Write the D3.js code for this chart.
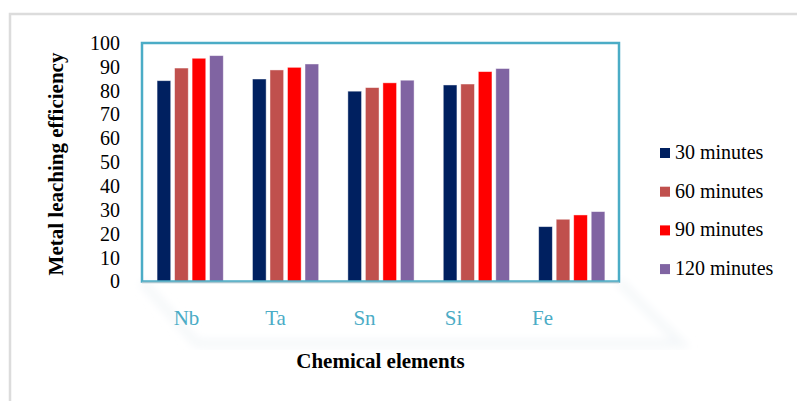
<!DOCTYPE html>
<html lang="en">
<head>
<meta charset="UTF-8">
<title>Metal leaching efficiency</title>
<script src="https://d3js.org/d3.v7.min.js"></script>
<style>
  body { margin: 0; background: #fff; }
  text { font-family: "Liberation Serif", "Times New Roman", serif; }
</style>
</head>
<body>
<script>
// data
const elements = ["Nb", "Ta", "Sn", "Si", "Fe"];
const series = ["30 minutes", "60 minutes", "90 minutes", "120 minutes"];
const min30  = [84.2, 84.9, 79.8, 82.4, 23.0];
const min60  = [89.5, 88.7, 81.3, 82.8, 26.1];
const min90  = [93.6, 89.8, 83.3, 88.0, 27.9];
const min120 = [94.7, 91.2, 84.4, 89.3, 29.3];
const yTicks = [0, 10, 20, 30, 40, 50, 60, 70, 80, 90, 100];
const colors = ["#002060", "#C0504D", "#FF0000", "#8064A2"];

const values = [min30, min60, min90, min120];

const width = 797, height = 401;
const plot = { left: 142, right: 619, top: 43, bottom: 281.5 };

const svg = d3.select("body").append("svg")
  .attr("width", width)
  .attr("height", height);

// outer frame
svg.append("rect")
  .attr("x", 10).attr("y", 14)
  .attr("width", 820).attr("height", 420)
  .attr("fill", "none")
  .attr("stroke", "#dcdcdc")
  .attr("stroke-width", 2.5);

// faint floor under the plot
const defs = svg.append("defs");
defs.append("filter").attr("id", "soft")
  .append("feGaussianBlur").attr("stdDeviation", 4);
svg.append("path")
  .attr("d", `M${plot.left},${plot.bottom} L${plot.left + 55},${plot.bottom + 62} L${plot.right + 62},${plot.bottom + 62} L${plot.right},${plot.bottom}`)
  .attr("fill", "none")
  .attr("stroke", "#f4f7f9")
  .attr("stroke-width", 8)
  .attr("filter", "url(#soft)");

const x0 = d3.scaleBand()
  .domain(elements)
  .range([plot.left, plot.right]);

const x1 = d3.scaleBand()
  .domain(series)
  .range([x0.bandwidth() * 0.158, x0.bandwidth() * 0.852])
  .paddingInner(0.22);

const y = d3.scaleLinear()
  .domain([0, 100])
  .range([plot.bottom, plot.top]);

// labels sit on the tilted floor, so they are spaced a bit tighter
const xLabel = d3.scaleBand()
  .domain(elements)
  .range([plot.left, 587]);

// bars
series.forEach((s, si) => {
  svg.append("g").selectAll("rect")
    .data(elements)
    .join("rect")
    .attr("x", (d) => x0(d) + x1(s))
    .attr("y", (d, i) => y(values[si][i]))
    .attr("width", x1.bandwidth())
    .attr("height", (d, i) => y(0) - y(values[si][i]))
    .attr("fill", colors[si])
    .attr("stroke", "rgba(255,255,255,0.55)")
    .attr("stroke-width", 0.8);
});

// plot box
svg.append("rect")
  .attr("x", plot.left).attr("y", plot.top)
  .attr("width", plot.right - plot.left)
  .attr("height", plot.bottom - plot.top)
  .attr("fill", "none")
  .attr("stroke", "#4BACC6")
  .attr("stroke-width", 2.5);

svg.append("line")
  .attr("x1", plot.left).attr("x2", plot.right)
  .attr("y1", plot.bottom + 1).attr("y2", plot.bottom + 1)
  .attr("stroke", "#a9c6d0")
  .attr("stroke-width", 1.5);

// y axis
const yAxis = d3.axisLeft(y)
  .tickValues(yTicks)
  .tickSize(0)
  .tickPadding(0);

const gy = svg.append("g")
  .attr("transform", "translate(120,0)")
  .call(yAxis);
gy.select(".domain").remove();
gy.selectAll("text")
  .attr("font-size", 20)
  .attr("fill", "#000")
  .style("font-family", "'Liberation Serif', serif");

// x axis labels
const xAxis = d3.axisBottom(xLabel)
  .tickSize(0)
  .tickPadding(0);

const gx = svg.append("g")
  .attr("transform", "translate(0,310)")
  .call(xAxis);
gx.select(".domain").remove();
gx.selectAll("text")
  .attr("font-size", 21)
  .attr("fill", "#4BACC6")
  .style("font-family", "'Liberation Serif', serif");

// axis titles
svg.append("text")
  .attr("transform", "translate(63,164) rotate(-90)")
  .attr("text-anchor", "middle")
  .attr("font-size", 21)
  .attr("font-weight", "bold")
  .text("Metal leaching efficiency");

svg.append("text")
  .attr("x", (plot.left + plot.right) / 2)
  .attr("y", 368)
  .attr("text-anchor", "middle")
  .attr("font-size", 21)
  .attr("font-weight", "bold")
  .text("Chemical elements");

// legend
const legend = svg.append("g")
  .attr("transform", "translate(660,148)");

const row = legend.selectAll("g")
  .data(series)
  .join("g")
  .attr("transform", (d, i) => `translate(0,${i * 38.7})`);

row.append("rect")
  .attr("width", 10).attr("height", 10)
  .attr("fill", (d, i) => colors[i]);

row.append("text")
  .attr("x", 15)
  .attr("y", 11)
  .attr("font-size", 20)
  .attr("fill", "#000")
  .text((d) => d);
</script>
</body>
</html>
